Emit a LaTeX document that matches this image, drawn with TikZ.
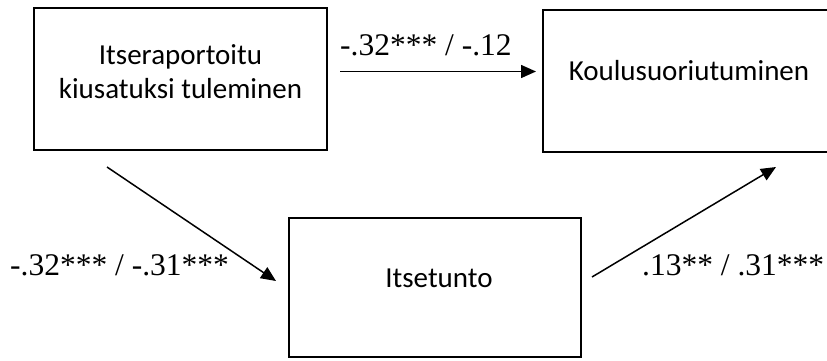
\documentclass[tikz,border=0pt]{standalone}
\usepackage{fontspec}
\newfontfamily\boxfont{Carlito}
\newfontfamily\labfont{Liberation Serif}
\usetikzlibrary{arrows.meta}
\begin{document}
\begin{tikzpicture}[x=1pt,y=-1pt,
  boxstyle/.style={draw=black,line width=2.3pt,inner sep=0pt},
  boxtext/.style={font=\boxfont\fontsize{29}{34}\selectfont,inner sep=0pt,align=center},
  labtext/.style={font=\labfont\fontsize{31.5}{36}\selectfont,inner sep=0pt,anchor=base west},
  arr/.style={line width=1.5pt,-{Triangle[length=15pt,width=13pt]}}]
\useasboundingbox (0,0) rectangle (827,360);
% boxes
\node[boxstyle,minimum width=293pt,minimum height=142pt] (A) at (180.5,79) {};
\node[boxstyle,minimum width=290pt,minimum height=142pt] (B) at (688,81) {};
\node[boxstyle,minimum width=292pt,minimum height=139pt] (C) at (435,287.5) {};
% box texts
\node[boxtext,anchor=base] (At1) at (180.5,64) {Itseraportoitu};
\node[boxtext,anchor=base] (At2) at (180.5,98) {kiusatuksi tuleminen};
\node[boxtext,anchor=base] (Bt) at (689,80) {Koulusuoriutuminen};
\node[boxtext,anchor=base] (Ct) at (439,287) {Itsetunto};
% connector end points
\coordinate (ab1) at (340,71.5);
\coordinate (ab2) at (536,71.5);
\coordinate (ac1) at (107,167);
\coordinate (ac2) at (276,281);
\coordinate (cb1) at (592,277);
\coordinate (cb2) at (776,167);
\draw[arr] (ab1) -- (ab2);
\draw[arr] (ac1) -- (ac2);
\draw[arr] (cb1) -- (cb2);
% labels
\node[labtext] (L1) at (340,55) {-.32*** / -.12};
\node[labtext] (L2) at (10,275) {-.32*** / -.31***};
\node[labtext] (L3) at (642,275) {.13** / .31***};
\end{tikzpicture}
\end{document}
